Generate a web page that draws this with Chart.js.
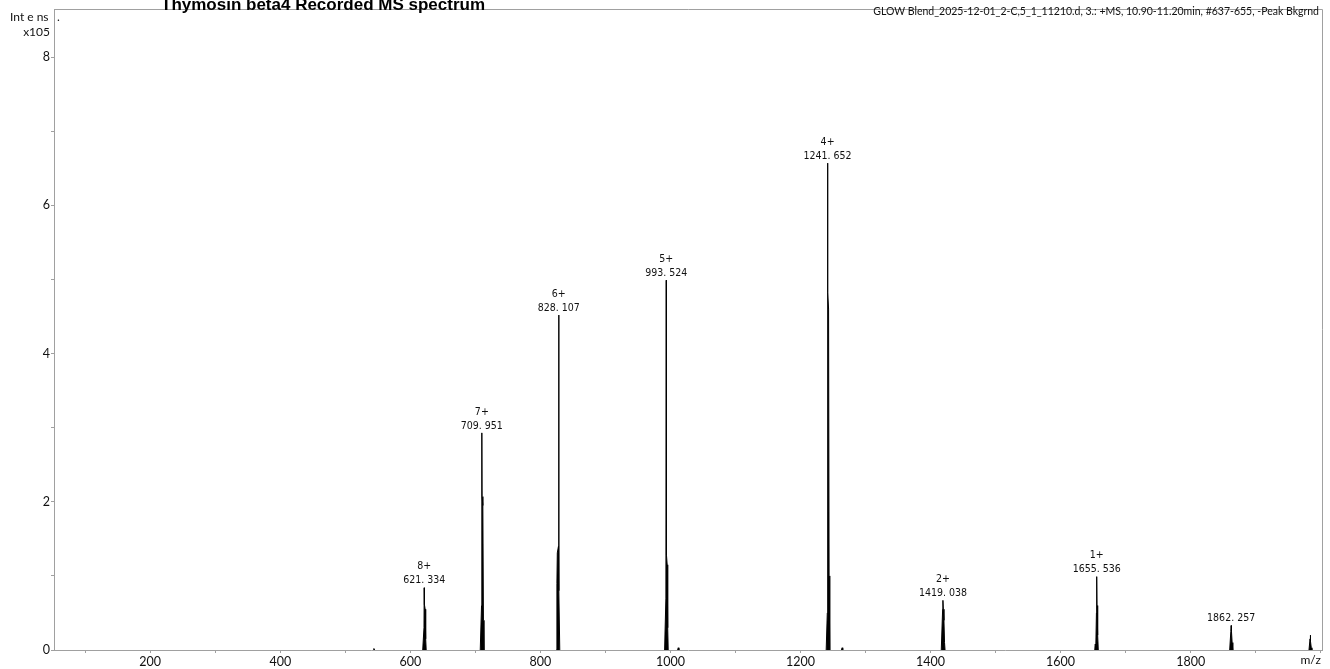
<!DOCTYPE html>
<html>
<head>
<meta charset="utf-8">
<title>Thymosin beta4 Recorded MS spectrum</title>
<script src="https://cdn.jsdelivr.net/npm/chart.js@4.4.1/dist/chart.umd.min.js"></script>
<style>
    html, body { margin: 0; padding: 0; background: #ffffff; }
    #wrap { width: 1330px; height: 669px; position: relative; }
</style>
</head>
<body>
<div id="wrap"><canvas id="msChart" width="1330" height="669"></canvas></div>
<script>
// Profile points (m/z, intensity x10^5); null breaks the line between peaks
const spectrumMz = [
    543, 544, 545, null,
    619.0, 621.0, 621.33, 621.7, 622.8, 623.6, 624.4, null,
    707.5, 709.5, 709.95, 710.3, 711.5, 712.4, 713.2, null,
    824.5, 825.4, 826.0, 827.8, 828.11, 828.6, 829.8, null,
    991.0, 993.0, 993.52, 993.9, 995.0, 995.8, 996.6, null,
    1011, 1012, 1013, null,
    1239.5, 1241.2, 1241.65, 1242.0, 1243.2, 1244.0, 1245.0, null,
    1263, 1264, 1265, null,
    1416.5, 1418.6, 1419.04, 1419.6, 1420.6, 1421.5, 1422.3, null,
    1652.5, 1653.2, 1654.2, 1655.1, 1655.54, 1656.0, 1657.0, 1658.0, null,
    1860.0, 1861.8, 1862.26, 1862.8, 1863.8, 1864.8, null,
    1982.0, 1983.6, 1984.0, 1984.5, 1985.5, 1986.5
];
const spectrumIntensity = [
    0, 0.02, 0, null,
    0, 0.30, 0.84, 0.61, 0.55, 0.15, 0, null,
    0, 0.60, 2.93, 2.07, 1.95, 0.40, 0, null,
    0, 0.90, 1.31, 1.40, 4.52, 0.80, 0, null,
    0, 0.70, 4.99, 1.28, 1.15, 0.30, 0, null,
    0, 0.03, 0, null,
    0, 0.50, 6.57, 4.82, 4.60, 1.00, 0, null,
    0, 0.03, 0, null,
    0, 0.55, 0.67, 0.55, 0.40, 0.10, 0, null,
    0, 0.08, 0.06, 0.50, 0.99, 0.60, 0.20, 0, null,
    0, 0.25, 0.33, 0.25, 0.10, 0, null,
    0, 0.15, 0.20, 0.12, 0.03, 0
];

// Labelled peaks
const peakMz = [621.334, 709.951, 828.107, 993.524, 1241.652, 1419.038, 1655.536, 1862.257];
const peakTop = [0.84, 2.93, 4.52, 4.99, 6.57, 0.67, 0.99, 0.33];
const peakCharge = ['8+', '7+', '6+', '5+', '4+', '2+', '1+', ''];
const peakLabel = ['621. 334', '709. 951', '828. 107', '993. 524', '1241. 652', '1419. 038', '1655. 536', '1862. 257'];

// Axis ticks
const xLabelTicks = [200, 400, 600, 800, 1000, 1200, 1400, 1600, 1800];
const yLabelTicks = [0, 2, 4, 6, 8];

const titleText = 'Thymosin beta4 Recorded MS spectrum';
const headerText = 'GLOW Blend_2025-12-01_2-C,5_1_11210.d, 3.: +MS, 10.90-11.20min, #637-655, -Peak Bkgrnd';

const axisGrey = '#a0a0a0';

const framePlugin = {
    id: 'frame',
    afterDraw(chart) {
        const { ctx, chartArea, scales } = chart;
        ctx.save();
        // top and right frame lines
        ctx.strokeStyle = axisGrey;
        ctx.lineWidth = 1;
        ctx.beginPath();
        ctx.moveTo(chartArea.left, chartArea.top + 0.5);
        ctx.lineTo(chartArea.right + 0.5, chartArea.top + 0.5);
        ctx.lineTo(chartArea.right + 0.5, chartArea.bottom);
        ctx.stroke();

        // peak annotations
        ctx.fillStyle = '#111111';
        ctx.textAlign = 'center';
        ctx.textBaseline = 'middle';
        ctx.font = '10.5px "DejaVu Sans Condensed", "DejaVu Sans", sans-serif';
        peakMz.forEach((mz, i) => {
            const px = scales.x.getPixelForValue(mz);
            const py = scales.y.getPixelForValue(peakTop[i]);
            ctx.fillText(peakLabel[i], px, py - 7);
            if (peakCharge[i]) ctx.fillText(peakCharge[i], px, py - 21);
        });

        // axis captions
        ctx.fillStyle = '#111111';
        ctx.font = '12px Lato, sans-serif';
        ctx.textAlign = 'left';
        ctx.fillText('Int e ns', 10, 17);
        ctx.fillText('.', 57, 17);
        ctx.textAlign = 'right';
        ctx.fillText('x105', 50, 32);
        ctx.fillText('m/z', chartArea.right - 1, 660);

        ctx.font = '10.5px Lato, sans-serif';
        ctx.fillText(headerText, chartArea.right - 3, 12);

        // title, partly cut by the top edge
        ctx.fillStyle = '#000000';
        ctx.textAlign = 'left';
        ctx.textBaseline = 'alphabetic';
        ctx.font = 'bold 17px "Liberation Sans", Arial, sans-serif';
        ctx.fillText(titleText, 161, 10);
        ctx.restore();
    }
};

const points = spectrumMz.map((mz, i) => ({ x: mz === null ? NaN : mz, y: spectrumIntensity[i] }));

new Chart(document.getElementById('msChart'), {
    type: 'line',
    data: {
        datasets: [{
            data: points,
            borderColor: '#000000',
            backgroundColor: '#000000',
            borderWidth: 1,
            pointRadius: 0,
            tension: 0,
            fill: 'origin',
            spanGaps: false
        }]
    },
    options: {
        responsive: false,
        animation: false,
        devicePixelRatio: 1,
        layout: { padding: { left: 0, top: 9, right: 8, bottom: 0 } },
        plugins: {
            legend: { display: false },
            tooltip: { enabled: false }
        },
        scales: {
            x: {
                type: 'linear',
                min: 52,
                max: 2002,
                afterFit: scale => { scale.height = 19; },
                afterBuildTicks: scale => {
                    const ticks = [];
                    for (let v = 100; v <= 2000; v += 100) ticks.push({ value: v });
                    scale.ticks = ticks;
                },
                ticks: {
                    autoSkip: false,
                    maxRotation: 0,
                    padding: 1,
                    color: '#111111',
                    font: { family: 'Lato', size: 12.5 },
                    callback: v => xLabelTicks.includes(v) ? String(v) : ''
                },
                grid: {
                    drawOnChartArea: false,
                    drawTicks: true,
                    tickLength: 3,
                    color: axisGrey
                },
                border: { display: true, color: axisGrey, width: 1 }
            },
            y: {
                min: 0,
                max: 8.65,
                afterFit: scale => { scale.width = 54; },
                afterBuildTicks: scale => {
                    const ticks = [];
                    for (let v = 0; v <= 8; v += 1) ticks.push({ value: v });
                    scale.ticks = ticks;
                },
                ticks: {
                    autoSkip: false,
                    padding: 1,
                    color: '#111111',
                    font: { family: 'Lato', size: 12.5 },
                    callback: v => yLabelTicks.includes(v) ? String(v) : ''
                },
                grid: {
                    drawOnChartArea: false,
                    drawTicks: true,
                    tickLength: 3,
                    color: axisGrey
                },
                border: { display: true, color: axisGrey, width: 1 }
            }
        }
    },
    plugins: [framePlugin]
});
</script>
</body>
</html>
